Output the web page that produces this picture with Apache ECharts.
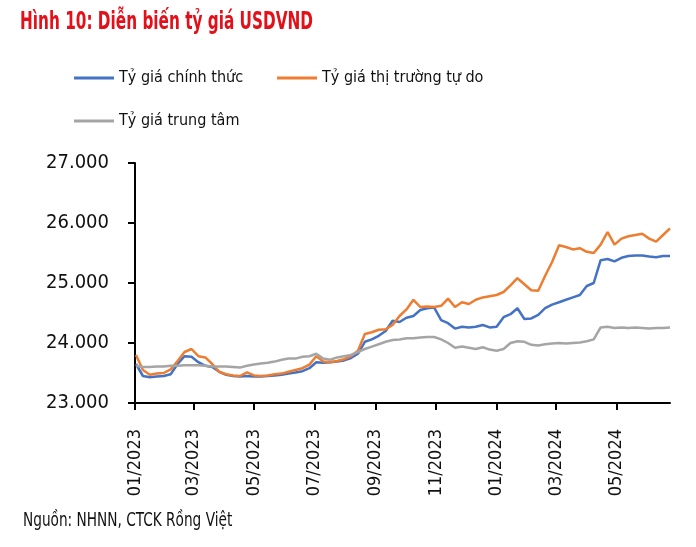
<!DOCTYPE html>
<html>
<head>
<meta charset="utf-8">
<script src="https://cdn.jsdelivr.net/npm/echarts@6/dist/echarts.min.js"></script>
<style>
  html, body { margin: 0; padding: 0; background: #fff; }
  #chart { width: 696px; height: 547px; }
</style>
</head>
<body>
<div id="chart"></div>
<script>
// weekly samples
var startDate = '2023-01-02'
var weeks = 78

var officialRate = [
  23650, 23450, 23430, 23440, 23450, 23480, 23650, 23780, 23770, 23680,
  23620, 23600, 23520, 23470, 23450, 23440, 23450, 23440, 23440, 23450,
  23460, 23470, 23490, 23510, 23530, 23580, 23680, 23670, 23680, 23690,
  23710, 23750, 23820, 24020, 24060, 24120, 24200, 24370, 24350, 24420,
  24450, 24550, 24580, 24590, 24380, 24330, 24240, 24270, 24260, 24270,
  24300, 24260, 24270, 24430, 24480, 24580, 24400, 24410, 24470, 24580,
  24640, 24680, 24720, 24760, 24800, 24950, 25000, 25380, 25400, 25360,
  25420, 25450, 25460, 25460, 25440, 25430, 25450, 25450
]
var freeRate = [
  23800, 23550, 23470, 23490, 23500, 23560, 23700, 23850, 23900, 23780,
  23760, 23650, 23520, 23480, 23460, 23450, 23510, 23460, 23450, 23460,
  23480, 23490, 23520, 23550, 23580, 23640, 23780, 23690, 23680, 23700,
  23730, 23780, 23870, 24150, 24180, 24220, 24230, 24300, 24450, 24560,
  24720, 24600, 24610, 24600, 24620, 24740, 24600, 24680, 24650, 24720,
  24760, 24780, 24800, 24850, 24960, 25080, 24980, 24880, 24870, 25120,
  25350, 25630, 25600, 25560, 25580, 25520, 25500, 25640, 25850, 25640,
  25740, 25780, 25800, 25820, 25740, 25690, 25800, 25910
]
var centralRate = [
  23620, 23600, 23600, 23610, 23610, 23620, 23620, 23630, 23630, 23630,
  23620, 23610, 23610, 23610, 23600, 23590, 23620, 23640, 23660, 23670,
  23690, 23720, 23740, 23740, 23770, 23780, 23820, 23740, 23720, 23760,
  23780, 23800, 23850, 23900, 23940, 23980, 24020, 24050, 24060, 24080,
  24080, 24090, 24100, 24100, 24060, 24000, 23920, 23940, 23920, 23900,
  23930, 23890, 23870, 23900, 24000, 24030, 24020, 23970, 23960, 23980,
  23990, 24000, 23990, 24000, 24010, 24030, 24060, 24260, 24270, 24250,
  24260, 24250, 24260, 24250, 24240, 24250, 24250, 24260
]
var tickMonths = ['2023-01-01', '2023-03-01', '2023-05-01', '2023-07-01', '2023-09-01',
  '2023-11-01', '2024-01-01', '2024-03-01', '2024-05-01']
var yTicks = [23000, 24000, 25000, 26000, 27000]

var fontName = '"Liberation Sans Narrow", "DejaVu Sans Condensed", sans-serif'
var DAY = 86400000

function dayOf(s) {
  var p = s.split('-')
  return Date.UTC(+p[0], +p[1] - 1, +p[2])
}

var dates = []
for (var i = 0; i < weeks; i++) {
  dates.push(dayOf(startDate) + i * 7 * DAY)
}
function pairs(arr) {
  return arr.map(function(v, i) { return [dates[i], v] })
}
var tickValues = tickMonths.map(dayOf)

var chart = echarts.init(document.getElementById('chart'))
chart.setOption({
  animation: false,
  graphic: [{
    // title, squeezed to look like the condensed face of the original
    type: 'text', x: 20, y: 10, scaleX: 0.68,
    style: { text: 'Hình 10: Diễn biến tỷ giá USDVND', fill: '#e3101a', font: 'bold 25px ' + fontName }
  }, {
    type: 'text', x: 23, y: 512, scaleX: 0.8,
    style: { text: 'Nguồn: NHNN, CTCK Rồng Việt', fill: '#111', font: '19px ' + fontName }
  }],
  legend: [{
    data: ['Tỷ giá chính thức', 'Tỷ giá thị trường tự do'],
    left: 69, top: 65, itemWidth: 40, itemHeight: 3, itemGap: 34,
    icon: 'rect',
    textStyle: { fontSize: 16, color: '#111', fontFamily: fontName }
  }, {
    data: ['Tỷ giá trung tâm'],
    left: 69, top: 108, itemWidth: 40, itemHeight: 3,
    icon: 'rect',
    textStyle: { fontSize: 16, color: '#111', fontFamily: fontName }
  }],
  grid: { left: 135, right: 26, top: 163, bottom: 144 },
  xAxis: {
    type: 'value',
    min: dayOf('2023-01-01'),
    max: dates[dates.length - 1],
    axisLine: { lineStyle: { color: '#000', width: 2 } },
    axisTick: { show: true, length: 7, lineStyle: { color: '#000', width: 2 }, customValues: tickValues },
    axisLabel: {
      customValues: tickValues,
      rotate: 90, margin: 26, color: '#111', fontSize: 18, fontFamily: fontName,
      formatter: function(v) {
        var d = new Date(v)
        var m = d.getUTCMonth() + 1
        return (m < 10 ? '0' + m : m) + '/' + d.getUTCFullYear()
      }
    },
    splitLine: { show: false }
  },
  yAxis: {
    type: 'value',
    min: yTicks[0], max: yTicks[yTicks.length - 1], interval: 1000,
    axisLine: { show: true, lineStyle: { color: '#000', width: 2 } },
    axisTick: { show: true, length: 7, lineStyle: { color: '#000', width: 2 } },
    axisLabel: {
      margin: 26, color: '#111', fontSize: 20, fontFamily: fontName,
      formatter: function(v) { return String(v).replace(/(\d)(\d{3})$/, '$1.$2') }
    },
    splitLine: { show: false }
  },
  series: [{
    name: 'Tỷ giá chính thức', type: 'line', data: pairs(officialRate),
    showSymbol: false, lineStyle: { color: '#4472c4', width: 2.5 }, itemStyle: { color: '#4472c4' }
  }, {
    name: 'Tỷ giá thị trường tự do', type: 'line', data: pairs(freeRate),
    showSymbol: false, lineStyle: { color: '#ed7d31', width: 2.5 }, itemStyle: { color: '#ed7d31' }
  }, {
    name: 'Tỷ giá trung tâm', type: 'line', data: pairs(centralRate),
    showSymbol: false, lineStyle: { color: '#a5a5a5', width: 2.5 }, itemStyle: { color: '#a5a5a5' }
  }]
})
</script>
</body>
</html>
